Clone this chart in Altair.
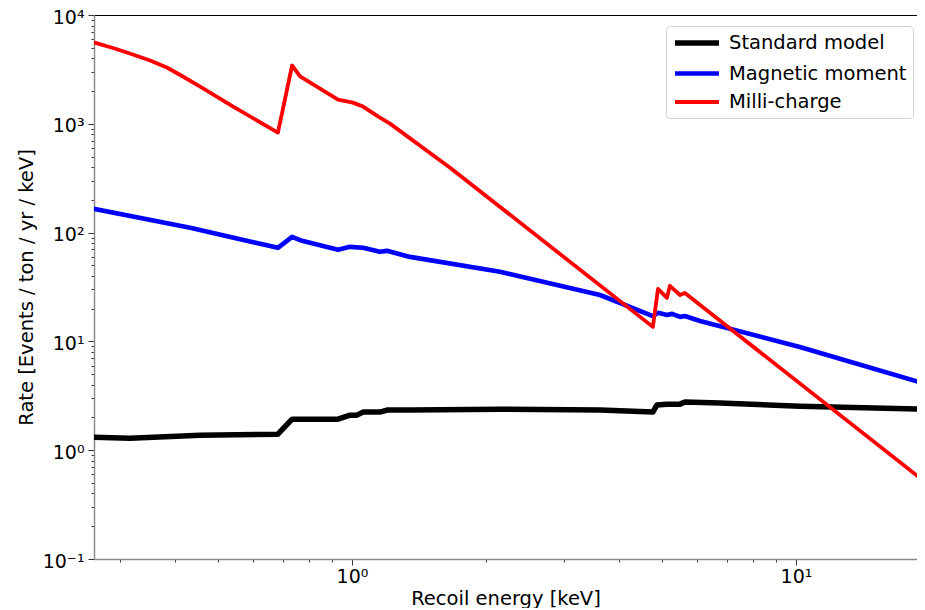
import altair as alt
import pandas as pd

# ---- data (energy in keV, rate in events/ton/yr/keV)
series_names = ["Standard model", "Magnetic moment", "Milli-charge"]
series_colors = ["#000000", "#0000ff", "#ff0000"]
series_widths = [5.5, 3.8, 4.2]

E_sm = [0.262, 0.316, 0.455, 0.681, 0.733, 0.930, 0.990, 1.026, 1.059, 1.156, 1.199,
        1.351, 2.154, 3.62, 4.76, 4.86, 5.12, 5.48, 5.62, 6.74, 10.2, 19.3]
R_sm = [1.318, 1.290, 1.375, 1.403, 1.93, 1.93, 2.10, 2.10, 2.24, 2.24, 2.34,
        2.34, 2.385, 2.34, 2.24, 2.60, 2.65, 2.65, 2.77, 2.71, 2.54, 2.385]

E_mm = [0.262, 0.432, 0.681, 0.733, 0.772, 0.930, 0.990, 1.059, 1.156, 1.199, 1.351,
        2.154, 3.62, 4.76, 4.89, 5.12, 5.26, 5.48, 5.62, 6.08, 10.2, 19.3]
R_mm = [165.6, 110.7, 72.5, 91.4, 84.0, 69.5, 74.0, 72.5, 66.6, 68.0, 59.8,
        43.6, 26.7, 17.1, 18.3, 17.5, 17.9, 16.8, 17.1, 15.4, 8.88, 4.14]

E_mc = [0.262, 0.2896, 0.321, 0.351, 0.383, 0.416, 0.455, 0.540, 0.681, 0.733, 0.764,
        0.930, 1.005, 1.059, 1.156, 1.218, 1.663, 4.76, 4.89, 5.12, 5.20, 5.48, 5.62, 19.3]
R_mc = [5600, 4977, 4335, 3819, 3291, 2720, 2201, 1440, 830, 3435, 2722,
        1671, 1566, 1440, 1140, 1004, 395, 13.6, 30.4, 25.1, 32.4, 26.7, 27.9, 0.53]

# visible window (the reference is cropped a little past 18.7 keV)
x_domain = [0.2624, 18.73]
y_domain = [0.1, 10000]
x_tick_values = [0.3, 0.4, 0.5, 0.6, 0.7, 0.8, 0.9, 1, 2, 3, 4, 5, 6, 7, 8, 9, 10]
y_tick_values = [m * 10.0 ** k for k in range(-1, 4) for m in range(1, 10)] + [10000]

x_title = "Recoil energy [keV]"
y_title = "Rate [Events / ton / yr / keV]"

rows = []
for name, E, R in zip(series_names, [E_sm, E_mm, E_mc], [R_sm, R_mm, R_mc]):
    for i, (e, r) in enumerate(zip(E, R)):
        rows.append({"series": name, "E": e, "R": r, "i": i})
df = pd.DataFrame(rows)

FONT = "DejaVu Sans"
major_test = "abs(log(datum.value)/LN10 - round(log(datum.value)/LN10)) < 0.001"
tick_size = {"condition": {"test": major_test, "value": 6}, "value": 3}

x_label_expr = "datum.value == 1 ? '10⁰' : datum.value == 10 ? '10¹' : ''"
y_label_expr = ("datum.value == 0.1 ? '10⁻¹' : datum.value == 1 ? '10⁰' : "
                "datum.value == 10 ? '10¹' : datum.value == 100 ? '10²' : "
                "datum.value == 1000 ? '10³' : datum.value == 10000 ? '10⁴' : ''")

xscale = alt.Scale(type="log", domain=x_domain, nice=False)
yscale = alt.Scale(type="log", domain=y_domain, nice=False)
cscale = alt.Scale(domain=series_names, range=series_colors)
wscale = alt.Scale(domain=series_names, range=series_widths)

xaxis = alt.Axis(values=x_tick_values, labelExpr=x_label_expr, tickSize=tick_size,
                 grid=False, domainColor="#8a8a8a", domainWidth=1.5, tickColor="#333333",
                 labelFont=FONT, labelFontSize=19, labelColor="black", labelPadding=2,
                 labelOverlap=False, labelFlush=False, titleFont=FONT, titleFontSize=19.5,
                 titleFontWeight="normal", titleColor="black", titlePadding=3)
yaxis = alt.Axis(values=y_tick_values, labelExpr=y_label_expr, tickSize=tick_size,
                 grid=False, domainColor="#8a8a8a", domainWidth=1.5, tickColor="#333333",
                 labelFont=FONT, labelFontSize=19, labelColor="black", labelPadding=4,
                 labelBaseline="alphabetic", labelOffset=8,
                 labelOverlap=False, labelFlush=False, titleFont=FONT, titleFontSize=19.5,
                 titleFontWeight="normal", titleColor="black", titlePadding=6)

legend = alt.Legend(title=None, orient="none", legendX=572, legendY=11,
                    fillColor="white", strokeColor="#d0d0d0", cornerRadius=4, padding=6,
                    labelFont=FONT, labelFontSize=19.5, labelColor="black", labelLimit=400,
                    symbolType="M-1,0H4.5", symbolSize=256, labelOffset=35, rowPadding=9)


def series_layer(name):
    return alt.Chart(df).transform_filter(alt.datum.series == name).mark_line(
        strokeCap="butt", strokeJoin="round", clip=True
    ).encode(
        x=alt.X("E:Q", scale=xscale, axis=xaxis, title=x_title),
        y=alt.Y("R:Q", scale=yscale, axis=yaxis, title=y_title),
        color=alt.Color("series:N", scale=cscale, legend=legend),
        strokeWidth=alt.StrokeWidth("series:N", scale=wscale, legend=legend),
        order=alt.Order("i:Q"),
    )


lines = alt.layer(*[series_layer(n) for n in series_names])

top_spine = alt.Chart(df).mark_line(opacity=0, clip=True).encode(
    x=alt.X("E:Q", scale=xscale,
            axis=alt.Axis(orient="top", labels=False, ticks=False, title=None, grid=False,
                          domainColor="black", domainWidth=1.2)),
    y=alt.Y("R:Q", scale=yscale, axis=None),
)

chart = alt.layer(lines, top_spine).resolve_axis(x="independent", y="independent").properties(
    width=823, height=544,
    padding={"left": 86, "top": 7, "right": 0, "bottom": 49},
    autosize=alt.AutoSizeParams(type="none"),
).configure_view(stroke=None).configure(font=FONT)

chart.save("out.html", embed_options={"renderer": "svg", "actions": False})
